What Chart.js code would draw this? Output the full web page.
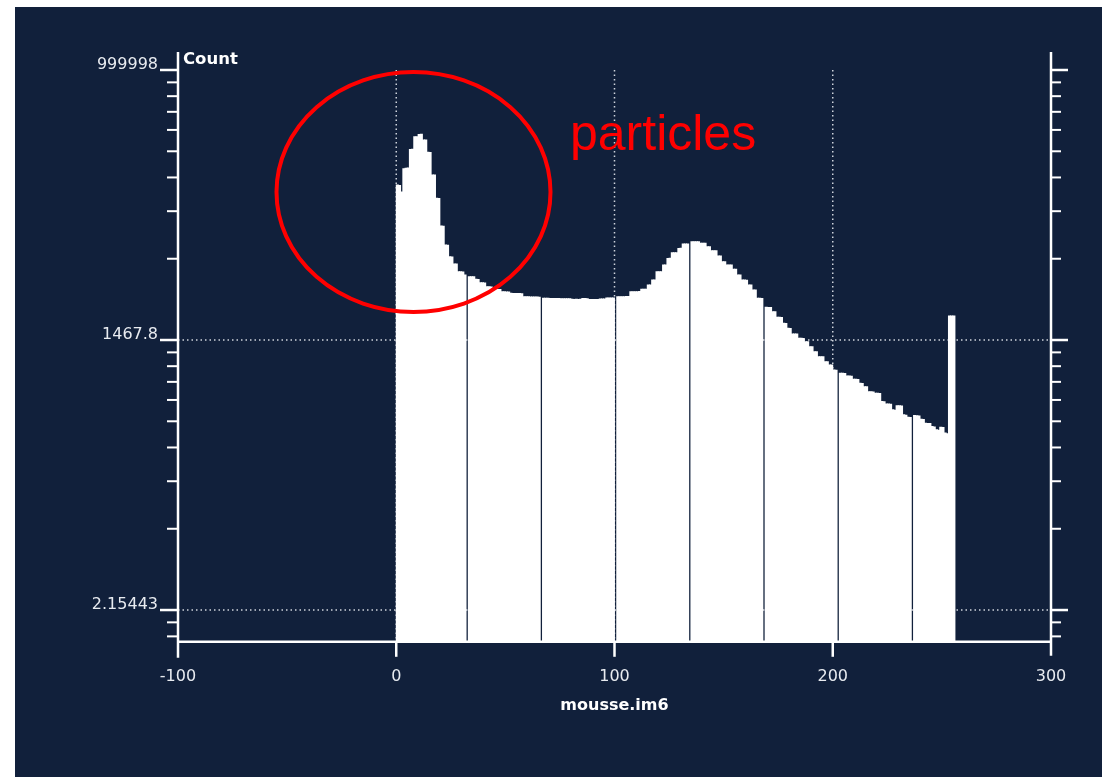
<!DOCTYPE html>
<html>
<head>
<meta charset="utf-8">
<script src="https://cdn.jsdelivr.net/npm/chart.js@4"></script>
<style>
  html, body { margin: 0; padding: 0; background: #fff; width: 1102px; height: 777px; overflow: hidden; }
  #panel { position: absolute; left: 15px; top: 7px; width: 1087px; height: 770px; background: #11203b; }
</style>
</head>
<body>
<div id="panel"><canvas id="histo" width="1087" height="770"></canvas></div>
<script>
// pixel counts per grey level 0..255
const counts = [
    62100, 61500, 52500, 92000, 93500, 94000, 147000, 147500, 199000, 200000, 211000, 212000, 184000, 184500, 137000, 136500,
    79000, 79200, 45100, 45000, 23100, 23000, 14600, 14500, 11000, 10950, 9200, 9220, 7650, 7640, 7600, 7060,
    0, 6780, 6770, 6760, 6370, 6360, 5860, 5850, 5840, 5320, 5310, 5300, 5000, 4990, 4980, 4970,
    4720, 4710, 4700, 4690, 4540, 4530, 4530, 4520, 4510, 4500, 4180, 4170, 4170, 4160, 4160, 4150,
    4150, 4140, 0, 4030, 4020, 4020, 4010, 4010, 4000, 4000, 4000, 3990, 3990, 3980, 3980, 3980,
    3930, 3920, 3930, 3920, 3930, 4000, 4000, 3990, 3910, 3900, 3910, 3900, 3910, 3955, 3950, 3960,
    4050, 4050, 4060, 4060, 0, 4180, 4180, 4190, 4190, 4200, 4200, 4720, 4720, 4730, 4730, 4740,
    5000, 5000, 5010, 5540, 5550, 6250, 6260, 7640, 7650, 7660, 8990, 9000, 10560, 10580, 12100, 12110,
    12120, 13450, 13470, 14920, 14930, 14940, 0, 15780, 15790, 15800, 15790, 15210, 15200, 15190, 14000, 13980,
    12710, 12700, 12690, 11180, 11160, 9740, 9720, 9000, 8990, 8980, 8120, 8100, 7070, 7050, 6260, 6250,
    6240, 5550, 5540, 4930, 4910, 4030, 4020, 4010, 0, 3240, 3230, 3230, 2915, 2905, 2545, 2540,
    2535, 2200, 2195, 1950, 1945, 1700, 1698, 1695, 1532, 1530, 1528, 1410, 1408, 1252, 1248, 1108,
    1105, 982, 980, 978, 870, 868, 804, 802, 712, 710, 0, 658, 657, 655, 616, 615,
    613, 569, 568, 566, 517, 515, 476, 474, 422, 421, 419, 406, 405, 403, 332, 330,
    314, 313, 311, 272, 270, 301, 300, 299, 241, 239, 228, 226, 0, 237, 236, 235,
    217, 215, 197, 196, 195, 182, 180, 168, 166, 179, 177, 155, 153, 2620, 2625, 2630
]
const xTicks = [-100, 0, 100, 200, 300]
const xGrid = [0, 100, 200]
const yMajor = [2.15443, 1467.8, 999998]
const yMajorLabels = ['2.15443', '1467.8', '999998']
const yGrid = [2.15443, 1467.8]
const yMinor = [1.14, 1.6, 15.35, 48.4, 109.4, 206, 345, 534, 780, 1089,
    10461, 32997, 74550, 140322, 235140, 364014, 531350, 741820]
const xTitle = 'mousse.im6'
const yTitle = 'Count'
const note = 'particles'

const bg = '#11203b'
const fg = '#ffffff'

function seg(ctx, x1, y1, x2, y2){
    ctx.beginPath()
    ctx.moveTo(x1, y1)
    ctx.lineTo(x2, y2)
    ctx.stroke()
}

// axes, ticks, dotted grid and the red note are drawn from the chart's own scales
const frame = {
    id: 'frame',
    beforeDatasetsDraw(chart){
        const {ctx, chartArea: a, scales: {x, y}} = chart
        ctx.save()
        ctx.strokeStyle = '#cfd3dc'
        ctx.lineWidth = 1.5
        ctx.setLineDash([1.5, 3])
        xGrid.forEach(v => {
            const px = x.getPixelForValue(v)
            seg(ctx, px, a.top, px, a.bottom)
        })
        yGrid.forEach(v => {
            const py = y.getPixelForValue(v)
            seg(ctx, a.left, py, a.right, py)
        })
        ctx.restore()
    },
    afterDatasetsDraw(chart){
        const {ctx, chartArea: a, scales: {x, y}} = chart
        ctx.save()
        ctx.strokeStyle = fg
        ctx.lineWidth = 2.5
        //frame lines
        seg(ctx, a.left, a.top - 18, a.left, a.bottom + 16)
        seg(ctx, a.right, a.top - 18, a.right, a.bottom + 14)
        seg(ctx, a.left, a.bottom, a.right, a.bottom)
        //y ticks, both sides
        yMajor.forEach(v => {
            const py = y.getPixelForValue(v)
            seg(ctx, a.left - 18, py, a.left, py)
            seg(ctx, a.right, py, a.right + 17, py)
        })
        ctx.lineWidth = 2
        yMinor.forEach(v => {
            const py = y.getPixelForValue(v)
            seg(ctx, a.left - 11, py, a.left, py)
            seg(ctx, a.right, py, a.right + 10, py)
        })
        //x ticks
        ctx.lineWidth = 2.5
        xGrid.forEach(v => {
            const px = x.getPixelForValue(v)
            seg(ctx, px, a.bottom, px, a.bottom + 15)
        })

        //labels
        ctx.fillStyle = '#e8ebf0'
        ctx.font = '16px "DejaVu Sans"'
        ctx.textAlign = 'right'
        ctx.textBaseline = 'alphabetic'
        yMajor.forEach((v, i) => {
            ctx.fillText(yMajorLabels[i], a.left - 20, y.getPixelForValue(v) - 1)
        })
        ctx.textAlign = 'center'
        ctx.textBaseline = 'middle'
        xTicks.forEach(v => {
            ctx.fillText(String(v), x.getPixelForValue(v), a.bottom + 35)
        })
        ctx.fillStyle = fg
        ctx.font = 'bold 16px "DejaVu Sans"'
        ctx.fillText(xTitle, (a.left + a.right) / 2, a.bottom + 64)
        ctx.textAlign = 'left'
        ctx.textBaseline = 'alphabetic'
        ctx.font = 'bold 16.5px "DejaVu Sans"'
        ctx.fillText(yTitle, a.left + 5, a.top - 6)

        //red annotation
        ctx.strokeStyle = '#ff0000'
        ctx.lineWidth = 4
        ctx.beginPath()
        ctx.ellipse(398.5, 185, 137, 120, 0, 0, Math.PI * 2)
        ctx.stroke()
        ctx.fillStyle = '#ff0000'
        ctx.font = '50px "Liberation Sans"'
        ctx.fillText(note, 555, 143)
        ctx.restore()
    }
}

new Chart('histo', {
    type: 'bar',
    data: {
        datasets: [{
            data: counts.map((c, i) => ({x: i + 0.5, y: c})),
            backgroundColor: fg,
            borderWidth: 0,
            inflateAmount: 0.45,
            barPercentage: 1,
            categoryPercentage: 1
        }]
    },
    options: {
        responsive: false,
        animation: false,
        layout: {padding: {left: 163, top: 63, right: 51, bottom: 135.2}},
        scales: {
            x: {type: 'linear', min: -100, max: 300, offset: false, display: false},
            y: {type: 'logarithmic', min: 1, max: 999998, display: false}
        },
        plugins: {
            legend: {display: false},
            tooltip: {enabled: false}
        }
    },
    plugins: [frame]
})
</script>
</body>
</html>
